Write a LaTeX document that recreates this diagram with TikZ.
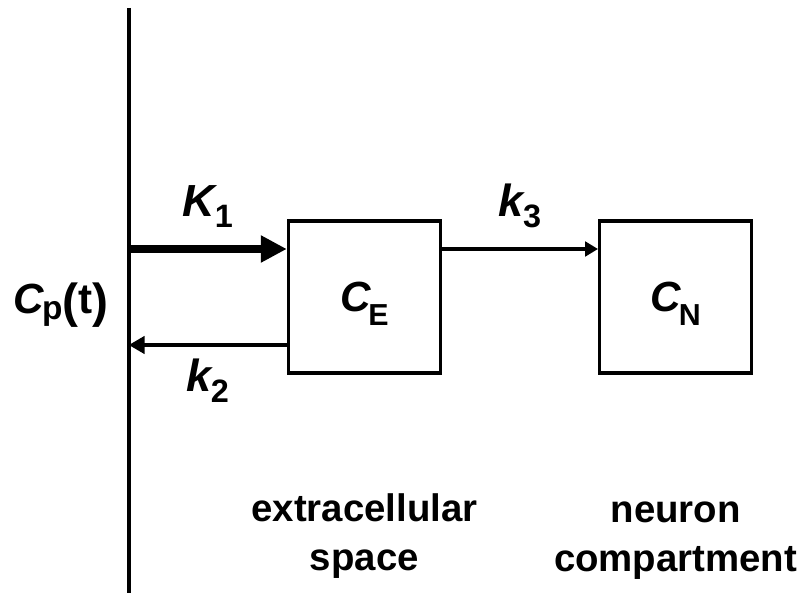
\documentclass[tikz,border=0pt]{standalone}
\usepackage{fontspec}
\setmainfont{Liberation Sans}
\usetikzlibrary{arrows.meta,positioning}
\newcommand{\lowsub}[2][0.25em]{\kern-0.06em\raisebox{-#1}{\scalebox{0.72}{#2}}}
\newcommand{\bigparen}[1]{\raisebox{-0.1em}{\fontsize{34}{40}\selectfont#1}}

\begin{document}
\begin{tikzpicture}[
      >=Latex,
      compartment/.style={draw, line width=2.3pt, minimum width=3.8cm, minimum height=3.8cm,
                  text height=0.73cm, text depth=0pt, font=\fontsize{30}{36}\selectfont\bfseries},
      conc/.style={anchor=base, font=\fontsize{30}{36}\selectfont\bfseries},
      rate/.style={midway, anchor=base, font=\fontsize{32}{38}\selectfont\bfseries},
      caption/.style={align=center, inner sep=0pt, anchor=north,
                  font=\fontsize{27.3}{34.6}\selectfont\bfseries},
      axisline/.style={line width=2.85pt},
      bigflow/.style={line width=5.7pt, -{Triangle[length=0.65cm, width=0.64cm]}},
      backflow/.style={line width=3.5pt, -{Triangle[length=0.4cm, width=0.43cm]}},
      fwdflow/.style={line width=2.6pt, -{Triangle[length=0.32cm, width=0.36cm]}}
    ]
      \useasboundingbox (0,0) rectangle (20.15,14.825);
      % plasma side
      \coordinate (axtop) at (3.2175,14.625);
      \coordinate (axbot) at (3.2175,0);
      \draw[axisline] (axtop) -- (axbot);
      \node[conc] (cp) at (1.525,7.0) {\textit{C}\lowsub[0.16em]{\scalebox{1.1}{p}}\bigparen{(}t\bigparen{)}};
      % compartments
      \node[compartment] (ce) at (9.11,7.4) {\textit{C}\lowsub[0.33em]{E}};
      \node[compartment, right=3.9cm of ce] (cn) {\textit{C}\lowsub[0.33em]{N}};
      \coordinate (kin) at ([yshift=1.2cm]ce.west);
      \coordinate (kout) at ([yshift=-1.2cm]ce.west);
      % exchange
      \draw[bigflow] (axbot |- kin) -- (kin) node[rate, yshift=0.815cm] {\textit{K}\lowsub{1}};
      \draw[backflow] (kout) -- (axbot |- kout) node[rate, yshift=-1.16cm] {\textit{k}\lowsub{2}};
      \draw[fwdflow] ([yshift=1.2cm]ce.east) -- ([yshift=1.2cm]cn.west)
            node[rate, yshift=0.815cm] {\textit{k}\lowsub{3}};
      % captions
      \node[caption, below=2.975cm of ce] (ecs) {extracellular\\space};
      \node[caption, below=3.18cm of cn] (neu) {neuron\\compartment};
    \end{tikzpicture}
\end{document}
